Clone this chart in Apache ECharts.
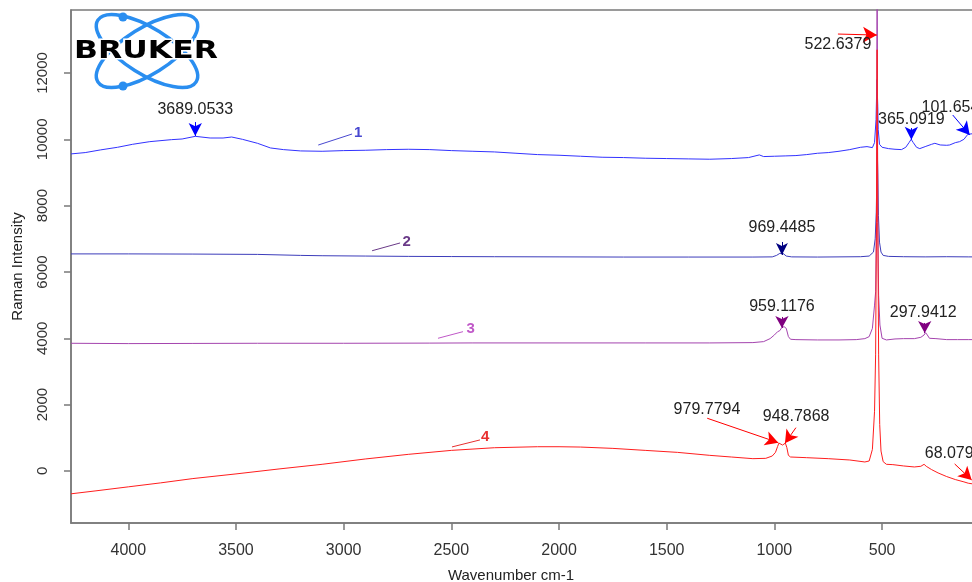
<!DOCTYPE html>
<html>
<head>
<meta charset="utf-8">
<script src="https://cdn.jsdelivr.net/npm/echarts@6/dist/echarts.min.js"></script>
<style>html,body{margin:0;padding:0;background:#fff}#chart{width:972px;height:582px}</style>
</head>
<body>
<div id="chart"></div>
<script>
// tick values
var xTicks = [4000, 3500, 3000, 2500, 2000, 1500, 1000, 500];
var yTicks = [0, 2000, 4000, 6000, 8000, 10000, 12000];

// spectrum 1 (blue) [wavenumber, intensity]
var spec1 = [
    [4266, 9560], [4200, 9600], [4130, 9680], [4050, 9760], [3980, 9850], [3900, 9930],
    [3800, 9990], [3750, 10010], [3689, 10090], [3620, 10040], [3560, 10040], [3520, 10070],
    [3470, 10000], [3400, 9880], [3340, 9740], [3280, 9690], [3200, 9650], [3100, 9640],
    [3000, 9660], [2900, 9670], [2800, 9690], [2700, 9700], [2600, 9690], [2500, 9660],
    [2400, 9640], [2300, 9620], [2200, 9580], [2100, 9540], [2000, 9520], [1900, 9490],
    [1800, 9460], [1700, 9450], [1600, 9430], [1500, 9420], [1400, 9410], [1300, 9400],
    [1200, 9420], [1120, 9450], [1070, 9530], [1050, 9480], [1000, 9490], [950, 9500],
    [900, 9510], [850, 9540], [800, 9580], [750, 9600], [700, 9640], [650, 9690],
    [600, 9760], [570, 9780], [545, 9750], [535, 9900], [528, 10600], [524, 11800],
    [520, 11000], [518, 10300], [512, 9850], [500, 9760], [470, 9720], [440, 9700],
    [410, 9690], [390, 9760], [375, 9900], [365, 10000], [355, 9900], [340, 9760],
    [325, 9720], [300, 9780], [270, 9850], [255, 9880], [230, 9830], [200, 9820],
    [186, 9830], [160, 9900], [140, 9930], [120, 10000], [102, 10150], [80, 10170], [60, 10180]
];

// spectrum 2 (dark blue)
var spec2 = [
    [4266, 6545], [4000, 6545], [3700, 6540], [3400, 6530], [3200, 6500], [3100, 6490],
    [2900, 6480], [2700, 6470], [2500, 6465], [2300, 6460], [2000, 6455], [1700, 6450],
    [1400, 6450], [1100, 6450], [1010, 6455], [990, 6500], [975, 6560], [969, 6580],
    [960, 6560], [945, 6480], [920, 6455], [800, 6450], [700, 6455], [600, 6460],
    [560, 6480], [540, 6600], [532, 7000], [527, 7800], [524, 9000], [522, 9600],
    [520, 9000], [517, 7700], [512, 6900], [505, 6600], [495, 6500], [470, 6470],
    [400, 6460], [300, 6455], [200, 6460], [100, 6455], [60, 6455]
];

// spectrum 3 (purple)
var spec3 = [
    [4266, 3850], [4000, 3840], [3700, 3845], [3400, 3850], [3000, 3850], [2600, 3855],
    [2400, 3860], [2000, 3860], [1600, 3860], [1300, 3860], [1100, 3870], [1050, 3900],
    [1020, 3990], [1000, 4100], [985, 4200], [975, 4230], [965, 4330], [955, 4350],
    [945, 4300], [935, 4050], [925, 3970], [900, 3960], [800, 3950], [700, 3950],
    [620, 3960], [580, 3990], [560, 4050], [545, 4300], [535, 5000], [530, 5400],
    [526, 7500], [523, 16000], [520, 7500], [516, 5300], [510, 4400], [500, 4000],
    [480, 3950], [440, 3980], [400, 3990], [350, 3990], [320, 4030], [305, 4100],
    [298, 4170], [290, 4100], [280, 4000], [250, 3990], [200, 3960], [150, 3960],
    [100, 3960], [60, 3960]
];

// spectrum 4 (red)
var spec4 = [
    [4266, -690], [4150, -600], [4000, -480], [3850, -360], [3700, -230], [3500, -90],
    [3300, 60], [3100, 200], [2900, 360], [2700, 500], [2500, 620], [2300, 700],
    [2100, 730], [2000, 730], [1900, 720], [1750, 680], [1600, 620], [1450, 560],
    [1300, 470], [1200, 420], [1100, 370], [1040, 380], [1010, 450], [995, 560],
    [985, 740], [979, 840], [970, 820], [962, 780], [955, 800], [949, 840],
    [942, 700], [935, 470], [925, 420], [850, 400], [750, 370], [650, 330],
    [580, 270], [560, 300], [545, 650], [535, 1800], [530, 3500], [526, 7500],
    [523, 12700], [520, 7500], [516, 3500], [511, 1400], [505, 600], [495, 280],
    [480, 200], [450, 190], [400, 150], [350, 120], [320, 140], [305, 200],
    [295, 140], [270, 40], [240, -60], [200, -170], [160, -260], [120, -330],
    [100, -370], [80, -390], [60, -400]
];

var FONT = 'Liberation Sans, Arial, sans-serif';

function txt(name, coord, opt){
    var l = {show: true, position: 'inside', formatter: name, color: '#222', fontSize: 16, fontFamily: FONT};
    for (var k in opt) l[k] = opt[k];
    return {name: name, coord: coord, label: l};
}
function arrow(from, to, color, size){
    return [
        {coord: from, symbol: 'none', lineStyle: {color: color, width: 1, type: 'solid'}},
        {coord: to, symbol: size ? 'arrow' : 'none', symbolSize: size || 0}
    ];
}
function mkSeries(name, data, color, points, lines){
    return {
        name: name,
        type: 'line',
        data: data,
        showSymbol: false,
        lineStyle: {color: color, width: 1},
        itemStyle: {color: color},
        animation: false,
        markPoint: {symbol: 'circle', symbolSize: 0, animation: false, data: points},
        markLine: {silent: true, animation: false, label: {show: false}, symbol: ['none', 'none'], data: lines}
    };
}

var c1 = '#3232ff', c2 = '#3c3cba', c3 = '#a444ae', c4 = '#ff1e1e';

var series = [
    mkSeries('1', spec1, c1, [
        txt('3689.0533', [3689, 10883]),
        txt('365.0919', [364, 10582]),
        txt('101.6543', [317, 10944], {position: 'right', distance: 0}),
        txt('1', [2933, 10190], {color: '#4848d0', fontWeight: 'bold', fontSize: 15})
    ], [
        arrow([3689, 10521], [3689, 10099], '#0000ff', [10, 13]),
        arrow([364, 10340], [364, 9990], '#0000ff', [10, 13]),
        arrow([172, 10733], [93, 10130], '#0000ff', [11, 13]),
        arrow([3118, 9828], [2961, 10160], '#4848d0')
    ]),
    mkSeries('2', spec2, c2, [
        txt('969.4485', [965, 7326]),
        txt('2', [2707, 6913], {color: '#6a3a88', fontWeight: 'bold', fontSize: 15})
    ], [
        arrow([965, 6904], [965, 6512], '#000080', [9, 12]),
        arrow([2868, 6640], [2738, 6875], '#6a3a88')
    ]),
    mkSeries('3', spec3, c3, [
        txt('959.1176', [965, 4953]),
        txt('297.9412', [309, 4772]),
        txt('3', [2410, 4281], {color: '#c058c8', fontWeight: 'bold', fontSize: 15})
    ], [
        arrow([965, 4643], [965, 4311], '#800080', [10, 12]),
        arrow([302, 4462], [302, 4160], '#800080', [10, 12]),
        arrow([2562, 4000], [2446, 4200], '#c058c8')
    ]),
    mkSeries('4', spec4, c4, [
        txt('522.6379', [705, 12843]),
        txt('979.7794', [1313, 1860]),
        txt('948.7868', [899, 1637]),
        txt('68.0795', [302, 512], {position: 'right', distance: 0}),
        txt('4', [2343, 1025], {color: '#e83030', fontWeight: 'bold', fontSize: 15})
    ], [
        arrow([705, 13175], [524, 13144], '#ff0000', [12, 14]),
        arrow([1312, 1589], [982, 853], '#ff0000', [11, 13]),
        arrow([900, 1305], [951, 835], '#ff0000', [11, 13]),
        arrow([163, 211], [84, -271], '#ff0000', [11, 13]),
        arrow([2497, 724], [2367, 935], '#e83030')
    ])
];

function plain(v){ return String(v); }

var logoBlue = '#2a8ef0';
var chart = echarts.init(document.getElementById('chart'), null, {renderer: 'canvas'});
chart.setOption({
    backgroundColor: '#fff',
    animation: false,
    grid: {left: 71, width: 908, top: 10, height: 513, outerBoundsMode: 'none', containLabel: false,
        show: true, borderColor: '#7a7a7a', borderWidth: 1.5},
    xAxis: {
        type: 'value', inverse: true, min: 50, max: 4266,
        name: 'Wavenumber cm-1', nameLocation: 'middle', nameGap: 45,
        nameTextStyle: {fontFamily: FONT, fontSize: 15, color: '#222', padding: [0, 28, 0, 0]},
        axisLine: {show: true, onZero: false, lineStyle: {color: '#7a7a7a', width: 1.5}},
        axisTick: {show: true, customValues: xTicks, length: 7, lineStyle: {color: '#7a7a7a', width: 1.5}},
        axisLabel: {customValues: xTicks, formatter: plain, margin: 20, fontFamily: FONT, fontSize: 16, color: '#333'},
        splitLine: {show: false}
    },
    yAxis: {
        type: 'value', min: -1570, max: 13900,
        name: 'Raman Intensity', nameLocation: 'middle', nameGap: 46, nameRotate: 90,
        nameTextStyle: {fontFamily: FONT, fontSize: 15, color: '#222'},
        axisLine: {show: true, onZero: false, lineStyle: {color: '#7a7a7a', width: 1.5}},
        axisTick: {show: true, customValues: yTicks, length: 7, lineStyle: {color: '#7a7a7a', width: 1.5}},
        axisLabel: {customValues: yTicks, formatter: plain, rotate: 90, margin: 21, fontFamily: FONT, fontSize: 15, color: '#333'},
        splitLine: {show: false}
    },
    graphic: [
        {type: 'ellipse', x: 147, y: 51, rotation: 0.56, shape: {cx: 0, cy: 0, rx: 58, ry: 23},
            style: {fill: null, stroke: logoBlue, lineWidth: 3.5}, z: 10},
        {type: 'ellipse', x: 147, y: 51, rotation: -0.56, shape: {cx: 0, cy: 0, rx: 58, ry: 23},
            style: {fill: null, stroke: logoBlue, lineWidth: 3.5}, z: 10},
        {type: 'circle', shape: {cx: 123, cy: 17, r: 4.5}, style: {fill: logoBlue}, z: 11},
        {type: 'circle', shape: {cx: 123, cy: 86, r: 4.5}, style: {fill: logoBlue}, z: 11},
        {type: 'text', x: 146, y: 52, scaleX: 1.31, z: 12,
            style: {text: 'BRUKER', fontFamily: 'DejaVu Sans', fontWeight: 'bold', fontSize: 24,
                fill: '#000', stroke: '#fff', lineWidth: 3, align: 'center', verticalAlign: 'middle'}}
    ],
    series: series
});
</script>
</body>
</html>
